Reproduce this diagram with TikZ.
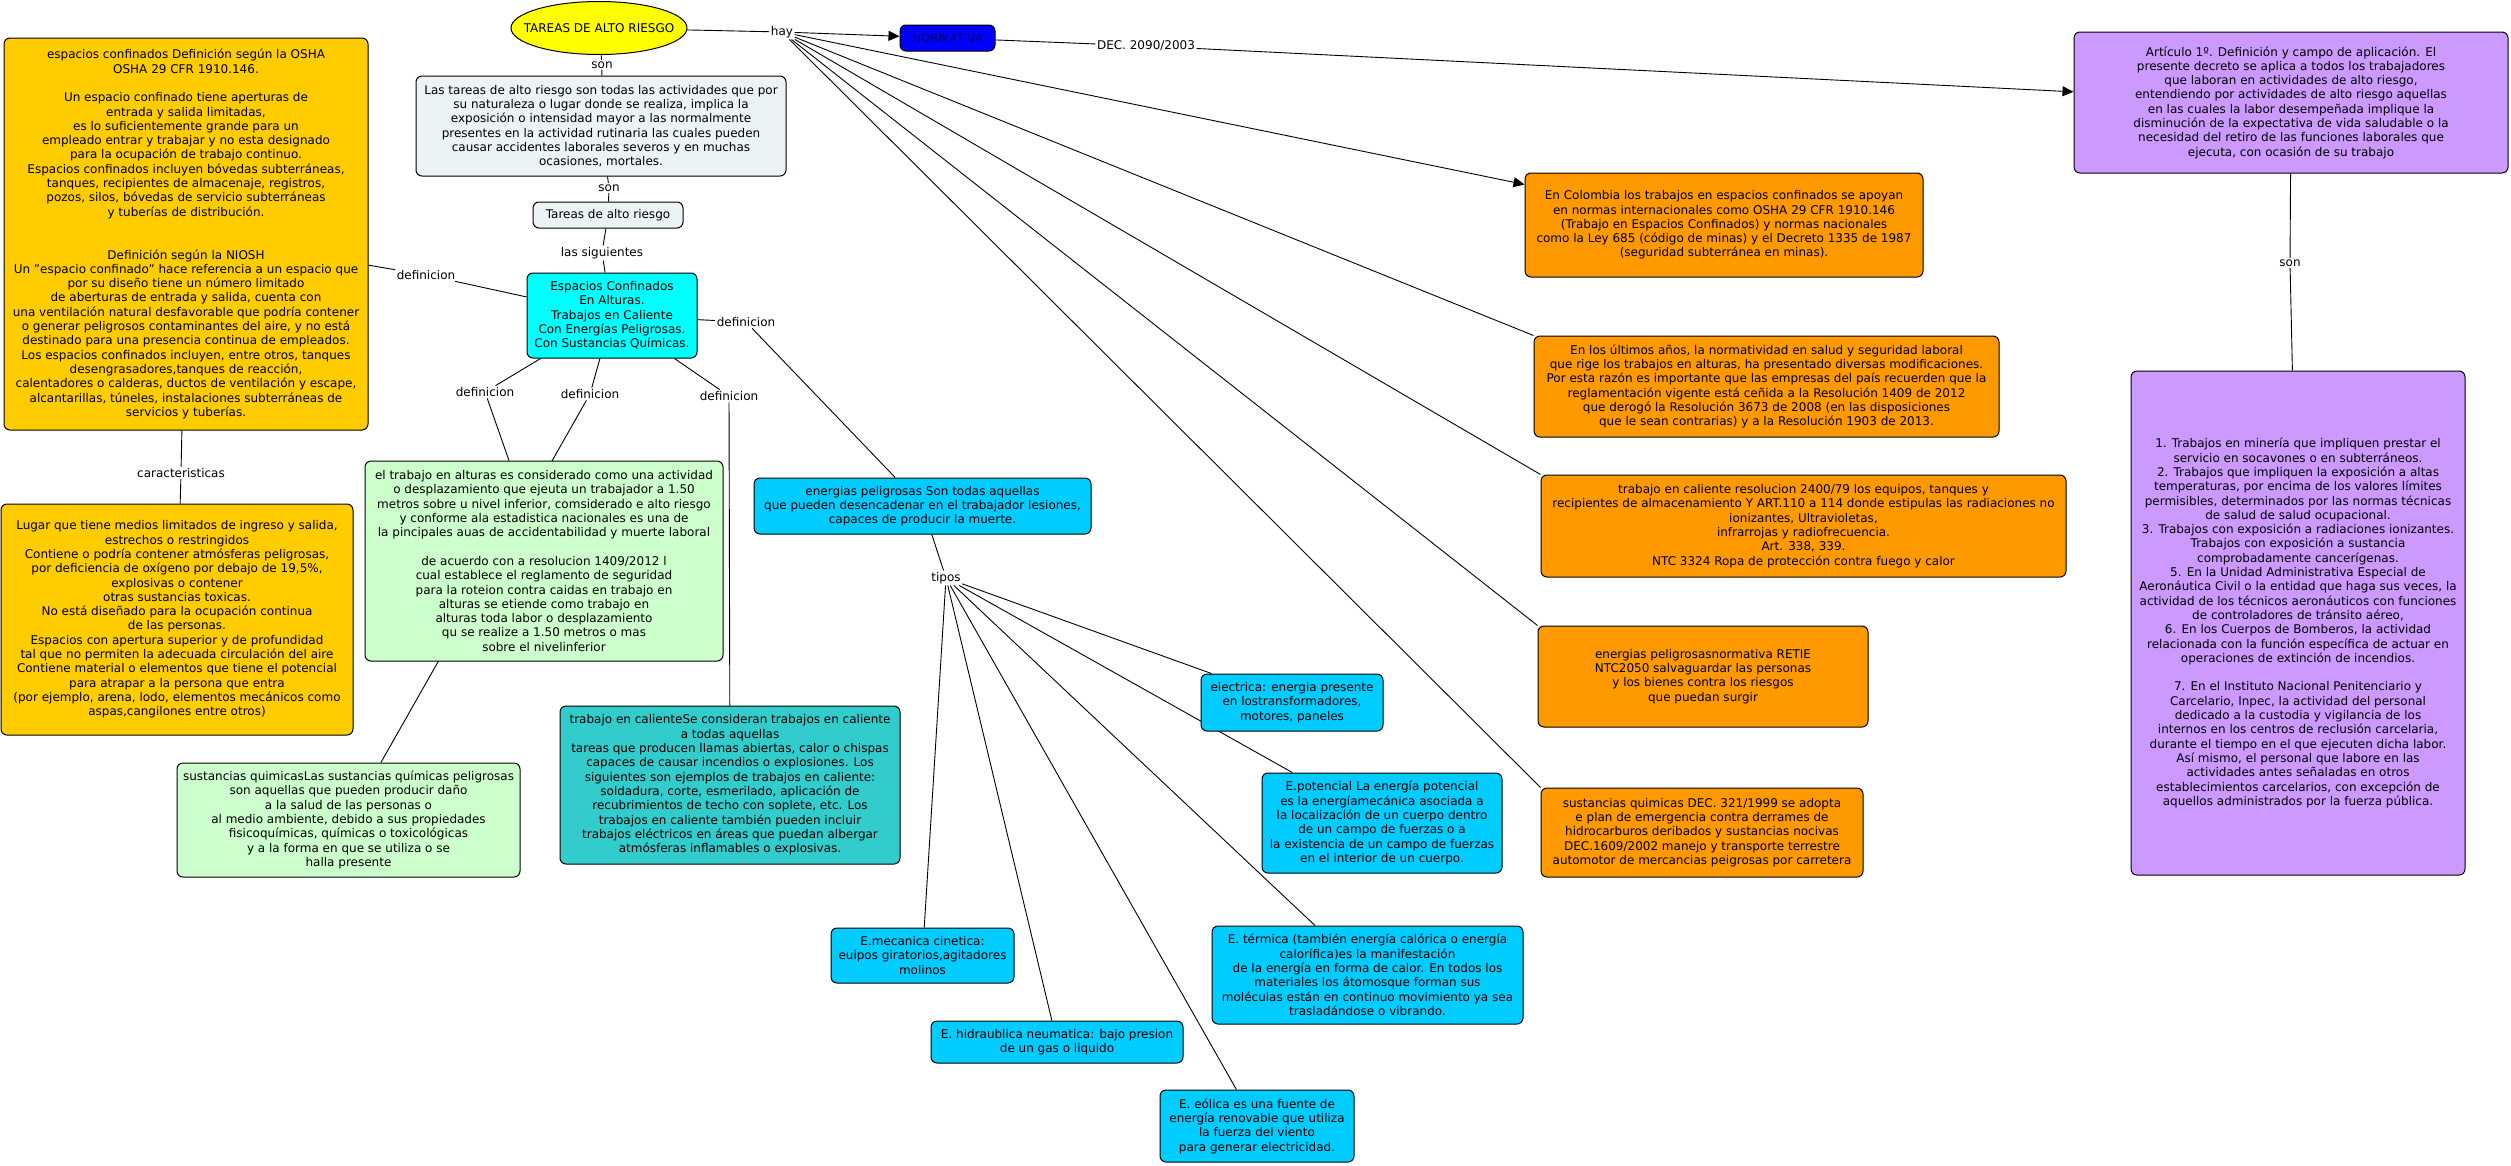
\documentclass[tikz,border=0pt]{standalone}
\usepackage{fontspec}
\setmainfont{DejaVu Sans}
\usepackage{tikz}
\usetikzlibrary{arrows.meta,backgrounds,shapes}
\definecolor{oro}{RGB}{255,204,0}
\definecolor{amarillo}{RGB}{255,255,0}
\definecolor{gris}{RGB}{235,243,245}
\definecolor{cian}{RGB}{0,255,255}
\definecolor{verde}{RGB}{204,255,204}
\definecolor{turquesa}{RGB}{51,204,204}
\definecolor{celeste}{RGB}{0,204,255}
\definecolor{naranja}{RGB}{255,153,0}
\definecolor{lila}{RGB}{204,153,255}
\definecolor{azul}{RGB}{0,0,255}
\definecolor{marino}{RGB}{0,0,110}

\tikzset{
  concepto/.style={draw, rounded corners=6pt, align=center, inner sep=2pt, line width=1pt, font=\fontsize{12}{14.3}\selectfont},
  enlace/.style={inner sep=1.5pt, font=\fontsize{12}{14.3}\selectfont},
  linea/.style={line width=0.9pt},
  flecha/.style={linea, -{Triangle[length=11pt,width=10pt]}}
}

\begin{document}
\begin{tikzpicture}[x=1pt,y=-1pt]
    \useasboundingbox (0,0) rectangle (2511,1165);
    % centro del mapa
    \node[draw, ellipse, fill=amarillo, line width=1pt, minimum height=53, inner xsep=-13pt, inner ysep=0pt, font=\fontsize{12}{14.3}\selectfont] (tareas) at (599,28) {TAREAS DE ALTO RIESGO};
    \node[concepto, fill=gris, minimum width=370, minimum height=100] (defin) at (601,126) {Las tareas de alto riesgo son todas las actividades que por\\su naturaleza o lugar donde se realiza, implica la\\exposición o intensidad mayor a las normalmente\\presentes en la actividad rutinaria las cuales pueden\\causar accidentes laborales severos y en muchas\\ocasiones, mortales.};
    \node[concepto, fill=gris, minimum width=150, minimum height=26] (tipostar) at (608,215) {Tareas de alto riesgo};
    \node[concepto, fill=cian, minimum width=170, minimum height=85] (espacios) at (612,315.5) {Espacios Confinados\\En Alturas.\\Trabajos en Caliente\\Con Energías Peligrosas.\\Con Sustancias Químicas.};
    % columna izquierda
    \node[concepto, fill=oro, minimum width=364, minimum height=392] (confinado) at (186,234) {espacios confinados Definición según la OSHA\\OSHA 29 CFR 1910.146.\\[14.3pt]Un espacio confinado tiene aperturas de\\entrada y salida limitadas,\\es lo suficientemente grande para un\\empleado entrar y trabajar y no esta designado\\para la ocupación de trabajo continuo.\\Espacios confinados incluyen bóvedas subterráneas,\\tanques, recipientes de almacenaje, registros,\\pozos, silos, bóvedas de servicio subterráneas\\y tuberías de distribución.\\[28.6pt]Definición según la NIOSH\\Un "espacio confinado" hace referencia a un espacio que\\por su diseño tiene un número limitado\\de aberturas de entrada y salida, cuenta con\\una ventilación natural desfavorable que podría contener\\o generar peligrosos contaminantes del aire, y no está\\destinado para una presencia continua de empleados.\\Los espacios confinados incluyen, entre otros, tanques\\desengrasadores,tanques de reacción,\\calentadores o calderas, ductos de ventilación y escape,\\alcantarillas, túneles, instalaciones subterráneas de\\servicios y tuberías.};
    \node[concepto, fill=oro, minimum width=352, minimum height=231] (lugar) at (177,619.5) {Lugar que tiene medios limitados de ingreso y salida,\\estrechos o restringidos\\Contiene o podría contener atmósferas peligrosas,\\por deficiencia de oxígeno por debajo de 19,5\%,\\explosivas o contener\\otras sustancias toxicas.\\No está diseñado para la ocupación continua\\de las personas.\\Espacios con apertura superior y de profundidad\\tal que no permiten la adecuada circulación del aire\\Contiene material o elementos que tiene el potencial\\para atrapar a la persona que entra\\(por ejemplo, arena, lodo, elementos mecánicos como\\aspas,cangilones entre otros)};
    \node[concepto, fill=verde, minimum width=358, minimum height=200] (alturas) at (544,561) {el trabajo en alturas es considerado como una actividad\\o desplazamiento que ejeuta un trabajador a 1.50\\metros sobre u nivel inferior, comsiderado e alto riesgo\\y conforme ala estadistica nacionales es una de\\la pincipales auas de accidentabilidad y muerte laboral\\[14.3pt]de acuerdo con a resolucion 1409/2012 l\\cual establece el reglamento de seguridad\\para la roteion contra caidas en  trabajo en\\alturas se etiende como trabajo en\\alturas toda labor o desplazamiento\\qu se realize a 1.50 metros o mas\\sobre el nivelinferior};
    \node[concepto, fill=verde, minimum width=343, minimum height=114] (quimicas) at (348.5,820) {sustancias quimicasLas sustancias químicas peligrosas\\son aquellas que pueden producir daño\\a la salud de las personas o\\al medio ambiente, debido a sus propiedades\\fisicoquímicas, químicas o toxicológicas\\y a la forma en que se utiliza o se\\halla presente};
    \node[concepto, fill=turquesa, minimum width=340, minimum height=158] (caliente) at (730,785) {trabajo en calienteSe consideran trabajos en caliente\\a todas aquellas\\tareas que producen llamas abiertas, calor o chispas\\capaces de causar incendios o explosiones. Los\\siguientes son ejemplos de trabajos en caliente:\\soldadura, corte, esmerilado, aplicación de\\recubrimientos de techo con soplete, etc. Los\\trabajos en caliente también pueden incluir\\trabajos eléctricos en áreas que puedan albergar\\atmósferas inflamables o explosivas.};
    % energias
    \node[concepto, fill=celeste, minimum width=337, minimum height=56] (energias) at (922.5,506) {energias peligrosas Son todas aquellas\\que pueden desencadenar en el trabajador lesiones,\\capaces de producir la muerte.};
    \node[concepto, fill=celeste, minimum width=182, minimum height=57] (electrica) at (1292,702.5) {electrica: energia presente\\en lostransformadores,\\motores, paneles};
    \node[concepto, fill=celeste, minimum width=240, minimum height=100] (potencial) at (1382,823) {E.potencial La energía potencial\\es la energíamecánica asociada a\\la localización de un cuerpo dentro\\de un campo de fuerzas o a\\la existencia de un campo de fuerzas\\en el interior de un cuerpo.};
    \node[concepto, fill=celeste, minimum width=183, minimum height=55] (mecanica) at (922.5,955.5) {E.mecanica cinetica:\\euipos giratorios,agitadores\\molinos};
    \node[concepto, fill=celeste, minimum width=252, minimum height=42] (hidraulica) at (1057,1042) {E. hidraublica neumatica: bajo presion\\de un gas o liquido};
    \node[concepto, fill=celeste, minimum width=194, minimum height=72] (eolica) at (1257,1126) {E. eólica es una fuente de\\energía renovable que utiliza\\la fuerza del viento\\para generar electricidad.};
    \node[concepto, fill=celeste, minimum width=311, minimum height=98] (termica) at (1367.5,975) {E. térmica (también energía calórica o energía\\calorífica)es la manifestación\\de la energía en forma de calor. En todos los\\materiales los átomosque forman sus\\moléculas están en continuo movimiento ya sea\\trasladándose o vibrando.};
    % normativa
    \node[concepto, fill=azul, text=marino, minimum width=95, minimum height=26] (normativa) at (947.5,38) {NORMATIVA};
    \node[concepto, fill=lila, minimum width=434, minimum height=141] (articulo) at (2291,102.5) {Artículo 1º. Definición y campo de aplicación. El\\presente decreto se aplica a todos los trabajadores\\que laboran en actividades de alto riesgo,\\entendiendo por actividades de alto riesgo aquellas\\en las cuales la labor desempeñada implique la\\disminución de la expectativa de vida saludable o la\\necesidad del retiro de las funciones laborales que\\ejecuta, con ocasión de su trabajo};
    \node[concepto, fill=lila, minimum width=334, minimum height=504] (lista) at (2298,623) {1. Trabajos en minería que impliquen prestar el\\servicio en socavones o en subterráneos.\\2. Trabajos que impliquen la exposición a altas\\temperaturas, por encima de los valores límites\\permisibles, determinados por las normas técnicas\\de salud de salud ocupacional.\\3. Trabajos con exposición a radiaciones ionizantes.\\Trabajos con exposición a sustancia\\comprobadamente cancerígenas.\\5. En la Unidad Administrativa Especial de\\Aeronáutica Civil o la entidad que haga sus veces, la\\actividad de los técnicos aeronáuticos con funciones\\de controladores de tránsito aéreo,\\6. En los Cuerpos de Bomberos, la actividad\\relacionada con la función específica de actuar en\\operaciones de extinción de incendios.\\[14.3pt]7. En el Instituto Nacional Penitenciario y\\Carcelario, Inpec, la actividad del personal\\dedicado a la custodia y vigilancia de los\\internos en los centros de reclusión carcelaria,\\durante el tiempo en el que ejecuten dicha labor.\\Así mismo, el personal que labore en las\\actividades antes señaladas en otros\\establecimientos carcelarios, con excepción de\\aquellos administrados por la fuerza pública.};
    \node[concepto, fill=naranja, minimum width=398, minimum height=104] (colombia) at (1724,225) {En Colombia los trabajos en espacios confinados se apoyan\\en normas internacionales como OSHA 29 CFR 1910.146\\(Trabajo en Espacios Confinados) y normas nacionales\\como la Ley 685 (código de minas) y el Decreto 1335 de 1987\\(seguridad subterránea en minas).};
    \node[concepto, fill=naranja, minimum width=465, minimum height=101] (ultimos) at (1766.5,386.5) {En los últimos años, la normatividad en salud y seguridad laboral\\que rige los trabajos en alturas, ha presentado diversas modificaciones.\\Por esta razón es importante que las empresas del país recuerden que la\\reglamentación vigente está ceñida a la Resolución 1409 de 2012\\que derogó la Resolución 3673 de 2008 (en las disposiciones\\que le sean contrarias) y a la Resolución 1903 de 2013.};
    \node[concepto, fill=naranja, minimum width=525, minimum height=102] (resolucion) at (1803.5,526) {trabajo en caliente resolucion 2400/79 los equipos, tanques y\\recipientes de almacenamiento Y ART.110 a 114 donde estipulas las  radiaciones no\\ionizantes, Ultravioletas,\\infrarrojas y radiofrecuencia.\\Art. 338, 339.\\NTC  3324 Ropa de protección contra fuego y calor};
    \node[concepto, fill=naranja, minimum width=330, minimum height=101] (retie) at (1703,676.5) {energias peligrosasnormativa RETIE\\NTC2050 salvaguardar las personas\\y los bienes contra los riesgos\\que puedan surgir};
    \node[concepto, fill=naranja, minimum width=322, minimum height=89] (decreto) at (1702,832.5) {sustancias quimicas DEC. 321/1999 se adopta\\e plan de emergencia contra derrames de\\hidrocarburos deribados y sustancias nocivas\\DEC.1609/2002 manejo y transporte  terrestre\\automotor  de mercancias peigrosas por carretera};
    % frases de enlace
    \node[enlace] (hay) at (782,32) {hay};
    \node[enlace] (son1) at (602,65) {son};
    \node[enlace] (son2) at (609,188) {son};
    \node[enlace] (siguientes) at (602,253) {las siguientes};
    \node[enlace] (defL) at (426,275) {definicion};
    \node[enlace] (defR) at (746,322) {definicion};
    \node[enlace] (defA) at (485,392) {definicion};
    \node[enlace] (defB) at (590,394) {definicion};
    \node[enlace] (defC) at (729,396) {definicion};
    \node[enlace] (caract) at (181,473) {caracteristicas};
    \node[enlace] (tipos) at (946,578) {tipos};
    \node[enlace] (dec) at (1146,46) {DEC. 2090/2003};
    \node[enlace] (son3) at (2290,263) {son};
    % conexiones
    \begin{scope}[on background layer]
      \draw[linea] (tareas) -- (hay);
      \draw[flecha] (hay) -- (normativa);
      \draw[flecha] (hay) -- (colombia);
      \foreach \n in {ultimos,resolucion,retie,decreto}
        \draw[linea] (hay) -- (\n.north west);
      \draw[linea] (normativa) -- (dec);
      \draw[flecha] (dec) -- (articulo);
      \draw[linea] (articulo) -- (son3) -- (lista);
      \draw[linea] (tareas) -- (son1) -- (defin) -- (son2) -- (tipostar) -- (siguientes) -- (espacios);
      \draw[linea] (espacios) -- (defL) -- (confinado);
      \draw[linea] (espacios) -- (defR) -- (energias);
      \draw[linea] (espacios) -- (defA) -- (alturas);
      \draw[linea] (espacios) -- (defB) -- (quimicas);
      \draw[linea] (espacios) -- (defC) -- (caliente);
      \draw[linea] (confinado) -- (caract) -- (lugar);
      \draw[linea] (energias) -- (tipos);
      \foreach \n in {electrica,potencial,termica,eolica,hidraulica,mecanica}
        \draw[linea] (tipos) -- (\n);
    \end{scope}
\end{tikzpicture}
\end{document}
